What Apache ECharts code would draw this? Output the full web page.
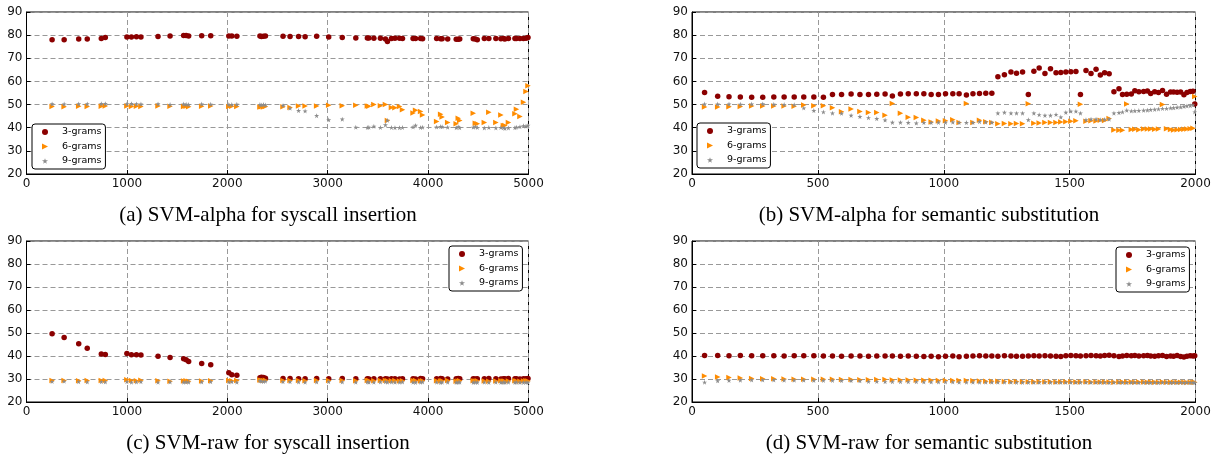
<!DOCTYPE html>
<html>
<head>
<meta charset="utf-8">
<script src="https://cdn.jsdelivr.net/npm/echarts@6/dist/echarts.min.js"></script>
<style>
  html, body { margin: 0; padding: 0; background: #fff; }
  #chart { width: 1221px; height: 462px; }
</style>
</head>
<body>
<div id="chart"></div>
<script>
// x positions (number of inserted syscalls / substituted items)
const xSyscall = [
  255, 375, 520, 605, 745, 785, 1000, 1045, 1095, 1140,
  1310, 1430, 1565, 1590, 1615, 1745, 1835, 2015, 2045, 2095,
  2325, 2340, 2360, 2380, 2555, 2625, 2710, 2775, 2890, 3010,
  3145, 3280, 3395, 3410, 3460, 3525, 3575, 3595, 3635, 3670,
  3715, 3745, 3850, 3875, 3925, 3945, 4085, 4125, 4140, 4195,
  4280, 4300, 4315, 4450, 4470, 4490, 4560, 4605, 4675, 4725,
  4750, 4765, 4800, 4865, 4880, 4915, 4950, 4975, 4995
]
const xSemantic = [
  50, 102, 147, 192, 237, 281, 325, 366, 406, 444,
  484, 522, 558, 594, 632, 667, 701, 734, 767, 796,
  828, 859, 891, 921, 950, 979, 1007, 1036, 1061, 1090,
  1116, 1142, 1167, 1191, 1215, 1241, 1267, 1289, 1313, 1336,
  1358, 1379, 1402, 1424, 1446, 1465, 1485, 1505, 1525, 1543,
  1565, 1585, 1605, 1622, 1639, 1657, 1676, 1696, 1710, 1727,
  1745, 1759, 1775, 1794, 1809, 1822, 1838, 1853, 1869, 1885,
  1901, 1913, 1927, 1941, 1954, 1966, 1979, 1990, 1997
]

// (a) SVM-alpha, syscall insertion
const alphaSys3 = [
  78.0, 78.0, 78.3, 78.3, 78.6, 79.0, 79.2, 79.2, 79.3, 79.2,
  79.4, 79.6, 79.8, 79.8, 79.6, 79.7, 79.7, 79.6, 79.6, 79.5,
  79.6, 79.4, 79.5, 79.6, 79.5, 79.4, 79.4, 79.3, 79.5, 79.2,
  79.0, 78.8, 78.8, 78.8, 78.7, 78.7, 78.3, 77.2, 78.6, 78.7,
  78.7, 78.6, 78.6, 78.5, 78.5, 78.4, 78.5, 78.4, 78.4, 78.3,
  78.2, 78.2, 78.3, 78.4, 78.3, 78.0, 78.5, 78.6, 78.6, 78.4,
  78.5, 78.3, 78.5, 78.5, 78.5, 78.5, 78.6, 78.7, 79.0
]
const alphaSys6 = [
  49.2, 49.1, 49.3, 49.2, 49.3, 49.4, 49.4, 49.2, 49.3, 49.2,
  49.4, 49.3, 49.2, 49.3, 49.1, 49.3, 49.4, 49.2, 49.3, 49.2,
  48.9, 49.1, 49.0, 49.2, 49.1, 48.7, 49.4, 49.4, 49.4, 49.7,
  49.5, 49.7, 49.4, 49.3, 50.0, 49.5, 50.0, 43.1, 48.7, 48.6,
  49.2, 47.8, 46.4, 47.6, 47.0, 45.5, 42.7, 45.8, 44.6, 42.2,
  41.7, 44.1, 43.1, 46.3, 41.9, 41.7, 42.2, 46.7, 42.2, 45.5,
  41.0, 41.0, 42.2, 46.0, 48.0, 44.8, 51.0, 55.7, 58.1
]
const alphaSys9 = [
  50.3, 50.2, 50.3, 50.3, 50.4, 50.4, 50.3, 50.4, 50.3, 50.2,
  50.3, 50.0, 50.2, 50.1, 50.0, 50.2, 50.1, 50.0, 50.0, 50.1,
  50.0, 49.8, 50.0, 49.8, 49.6, 48.4, 47.4, 47.2, 45.2, 43.4,
  43.7, 40.2, 40.1, 40.2, 40.6, 40.1, 41.2, 43.2, 40.1, 40.0,
  40.0, 40.1, 40.3, 41.0, 40.1, 40.2, 40.3, 40.5, 40.4, 40.2,
  40.0, 40.4, 40.0, 40.2, 40.4, 40.1, 39.9, 40.1, 39.9, 40.1,
  40.0, 39.7, 39.9, 40.0, 40.2, 40.4, 40.8, 40.6, 41.0
]

// (b) SVM-alpha, semantic substitution
const alphaSem3 = [
  55.2, 53.6, 53.4, 53.3, 53.2, 53.2, 53.3, 53.3, 53.3, 53.3,
  53.3, 53.2, 54.3, 54.4, 54.6, 54.4, 54.4, 54.5, 54.6, 53.7,
  54.6, 54.7, 54.7, 54.7, 54.4, 54.4, 54.7, 54.7, 54.7, 54.1,
  54.7, 54.8, 54.9, 54.9, 62.0, 62.9, 64.1, 63.5, 64.1, 54.4,
  64.4, 65.8, 63.4, 65.5, 63.7, 63.9, 64.1, 64.2, 64.3, 54.4,
  64.7, 63.4, 65.3, 62.8, 63.7, 63.3, 55.5, 56.8, 54.3, 54.5,
  54.6, 56.0, 55.5, 55.6, 55.9, 54.8, 55.5, 55.2, 56.1, 54.5,
  55.4, 55.4, 55.3, 55.4, 54.2, 55.2, 55.6, 55.8, 50.3
]
const alphaSem6 = [
  49.0, 49.0, 49.1, 49.2, 49.4, 49.4, 49.4, 49.4, 49.3, 49.8,
  49.5, 49.5, 48.6, 46.9, 48.1, 47.0, 46.6, 46.6, 45.4, 50.5,
  46.2, 44.5, 44.4, 43.2, 42.5, 42.9, 43.0, 43.4, 42.3, 50.5,
  42.3, 43.2, 42.6, 42.3, 41.7, 41.8, 41.7, 41.8, 41.7, 50.4,
  41.9, 42.0, 42.2, 42.2, 42.3, 42.5, 42.6, 42.8, 43.0, 50.1,
  42.8, 43.0, 42.9, 43.2, 43.1, 44.0, 39.0, 38.9, 38.9, 50.3,
  39.2, 39.3, 39.1, 39.4, 39.4, 39.4, 39.3, 39.4, 50.0, 39.5,
  39.2, 39.0, 39.1, 39.2, 39.3, 39.4, 39.5, 39.8, 53.5
]
const alphaSem9 = [
  50.2, 50.2, 50.2, 50.1, 50.2, 50.3, 50.1, 50.0, 49.9, 48.5,
  47.4, 46.8, 46.3, 46.2, 45.3, 44.8, 44.3, 43.9, 43.3, 42.3,
  42.3, 42.2, 42.0, 42.2, 42.2, 42.3, 42.3, 42.4, 42.2, 42.2,
  42.2, 42.6, 42.4, 42.3, 46.3, 46.6, 46.3, 46.3, 46.3, 43.4,
  46.3, 45.6, 45.3, 45.3, 45.7, 44.6, 46.6, 47.1, 47.1, 46.3,
  43.4, 43.7, 43.7, 43.4, 43.6, 43.7, 46.3, 46.5, 46.8, 47.5,
  47.2, 47.3, 47.4, 47.5, 47.6, 47.8, 47.9, 48.1, 48.3, 48.3,
  48.5, 48.6, 48.8, 48.9, 49.2, 49.4, 49.5, 49.8, 46.8
]

// (c) SVM-raw, syscall insertion
const rawSys3 = [
  49.7, 48.0, 45.3, 43.4, 40.9, 40.6, 41.1, 40.5, 40.5, 40.4,
  39.9, 39.4, 38.8, 38.4, 37.6, 36.7, 36.2, 32.7, 31.8, 31.6,
  30.5, 30.8, 30.6, 30.3, 30.2, 30.2, 30.1, 30.1, 30.2, 30.1,
  30.2, 30.1, 30.1, 30.0, 30.1, 30.1, 30.1, 30.0, 30.1, 30.1,
  30.0, 30.1, 30.1, 30.0, 30.2, 30.1, 30.1, 30.2, 30.1, 30.0,
  30.1, 30.2, 30.1, 30.1, 30.0, 30.1, 30.1, 30.2, 30.1, 30.0,
  30.1, 30.1, 30.2, 30.1, 30.1, 30.0, 30.1, 30.1, 30.2
]
const rawSys6 = [
  29.4, 29.3, 29.2, 29.3, 29.4, 29.3, 29.7, 29.3, 29.2, 29.5,
  29.2, 29.0, 29.1, 29.2, 29.0, 29.1, 29.2, 29.3, 29.2, 29.4,
  29.6, 29.5, 29.4, 29.5, 29.3, 29.4, 29.3, 29.2, 29.3, 29.4,
  29.3, 29.2, 29.3, 29.4, 29.2, 29.3, 29.3, 29.2, 29.2, 29.3,
  29.1, 29.2, 29.3, 29.3, 29.1, 29.2, 29.2, 29.1, 29.2, 29.3,
  29.0, 29.1, 29.2, 29.2, 29.1, 29.2, 29.1, 29.0, 29.1, 29.2,
  29.1, 29.0, 29.1, 29.2, 29.1, 29.0, 29.1, 29.2, 29.1
]
const rawSys9 = [
  28.9, 29.0, 28.8, 28.7, 28.8, 28.7, 28.8, 28.6, 28.7, 28.8,
  28.6, 28.7, 28.6, 28.7, 28.6, 28.7, 28.8, 28.7, 28.8, 28.6,
  29.2, 29.0, 28.9, 29.0, 28.8, 28.8, 28.7, 28.6, 28.7, 28.8,
  28.7, 28.6, 28.7, 28.6, 28.6, 28.7, 28.8, 28.6, 28.7, 28.6,
  28.6, 28.7, 28.6, 28.5, 28.6, 28.7, 28.6, 28.5, 28.6, 28.6,
  28.5, 28.6, 28.6, 28.5, 28.6, 28.5, 28.6, 28.5, 28.6, 28.5,
  28.6, 28.5, 28.6, 28.5, 28.6, 28.5, 28.5, 28.6, 28.5
]

// (d) SVM-raw, semantic substitution
const rawSem3 = [
  40.2, 40.2, 40.1, 40.2, 40.1, 40.1, 40.1, 40.0, 40.1, 40.1,
  40.1, 40.0, 40.0, 39.9, 40.0, 40.0, 39.9, 40.0, 40.0, 40.0,
  39.9, 40.0, 39.9, 39.8, 39.9, 39.7, 39.9, 40.0, 39.7, 39.9,
  40.0, 40.1, 40.0, 40.0, 39.9, 40.1, 40.0, 39.9, 39.9, 40.0,
  40.1, 40.0, 40.1, 40.0, 39.9, 39.8, 40.1, 40.2, 40.1, 40.0,
  40.1, 40.2, 40.1, 40.0, 40.2, 40.3, 40.1, 39.8, 40.0, 40.2,
  40.1, 40.2, 40.0, 40.1, 40.2, 40.0, 39.9, 40.1, 40.2, 39.8,
  40.0, 39.9, 40.2, 39.8, 39.6, 39.9, 40.1, 40.0, 40.1
]
const rawSem6 = [
  31.3, 30.9, 30.7, 30.4, 30.2, 30.1, 30.1, 30.0, 29.9, 29.9,
  29.9, 29.9, 29.9, 29.8, 29.8, 29.7, 29.7, 29.8, 29.8, 29.6,
  29.6, 29.6, 29.5, 29.5, 29.5, 29.4, 29.4, 29.4, 29.3, 29.3,
  29.2, 29.1, 29.0, 29.0, 29.0, 28.9, 28.9, 28.9, 28.8, 28.8,
  28.8, 28.8, 28.8, 28.8, 28.7, 28.8, 28.8, 28.8, 28.7, 28.7,
  28.8, 28.7, 28.7, 28.7, 28.7, 28.7, 28.6, 28.7, 28.7, 28.7,
  28.7, 28.6, 28.7, 28.7, 28.6, 28.7, 28.6, 28.6, 28.7, 28.6,
  28.6, 28.6, 28.6, 28.6, 28.6, 28.5, 28.6, 28.6, 28.6
]
const rawSem9 = [
  28.6, 29.2, 29.4, 29.5, 29.6, 29.6, 29.6, 29.5, 29.5, 29.5,
  29.4, 29.4, 29.4, 29.3, 29.3, 29.2, 28.9, 28.9, 28.8, 28.8,
  28.8, 28.8, 28.8, 28.7, 28.7, 28.7, 28.7, 28.7, 28.6, 28.6,
  28.6, 28.6, 28.6, 28.6, 28.6, 28.6, 28.6, 28.5, 28.5, 28.5,
  28.5, 28.5, 28.5, 28.5, 28.5, 28.5, 28.5, 28.5, 28.5, 28.5,
  28.5, 28.5, 28.5, 28.5, 28.5, 28.4, 28.5, 28.5, 28.5, 28.4,
  28.5, 28.5, 28.4, 28.5, 28.5, 28.4, 28.5, 28.4, 28.5, 28.5,
  28.4, 28.5, 28.4, 28.5, 28.4, 28.5, 28.4, 28.5, 28.4
]

const seriesNames = ['3-grams', '6-grams', '9-grams']
const seriesColors = ['#8b0000', '#ff8c00', '#8c8c8c']
const seriesSymbols = [
  'circle',
  'path://M0,0L10,5L0,10Z',
  'path://M5,0L6.123,3.455L9.755,3.455L6.816,5.59L7.939,9.045L5,6.91L2.061,9.045L3.184,5.59L0.245,3.455L3.877,3.455Z'
]
const symbolSizes = [5.5, 5.5, 5]
const yTicks = { min: 20, max: 90, interval: 10 }

const panels = [
  {
    grid: { left: 26.5, top: 12, width: 502, height: 162 },
    xMax: 5000, xStep: 1000, x: xSyscall, ys: [alphaSys3, alphaSys6, alphaSys9],
    legend: { left: 32, top: 124 },
    caption: '(a) SVM-alpha for syscall insertion', cx: 268, cy: 215
  },
  {
    grid: { left: 692, top: 12, width: 503.5, height: 162 },
    xMax: 2000, xStep: 500, x: xSemantic, ys: [alphaSem3, alphaSem6, alphaSem9],
    legend: { left: 697, top: 123 },
    caption: '(b) SVM-alpha for semantic substitution', cx: 929, cy: 215
  },
  {
    grid: { left: 26.5, top: 241, width: 502, height: 161 },
    xMax: 5000, xStep: 1000, x: xSyscall, ys: [rawSys3, rawSys6, rawSys9],
    legend: { left: 449, top: 246 },
    caption: '(c) SVM-raw for syscall insertion', cx: 268, cy: 443
  },
  {
    grid: { left: 692, top: 241, width: 503.5, height: 161 },
    xMax: 2000, xStep: 500, x: xSemantic, ys: [rawSem3, rawSem6, rawSem9],
    legend: { left: 1116, top: 247 },
    caption: '(d) SVM-raw for semantic substitution', cx: 929, cy: 443
  }
]

const tickFont = { fontFamily: 'DejaVu Sans', fontSize: 12, color: '#111' }
const gridLine = { show: true, lineStyle: { color: '#999999', width: 1, type: [5, 3] } }

function buildAxis(i, min, max, interval) {
  return {
    gridIndex: i,
    type: 'value',
    min: min,
    max: max,
    interval: interval,
    axisLine: { show: true, onZero: false, lineStyle: { color: '#000', width: 1 } },
    axisTick: { show: true, inside: true, length: 4, lineStyle: { color: '#000' } },
    axisLabel: Object.assign({ margin: 4, formatter: v => String(v) }, tickFont),
    splitLine: gridLine
  }
}

const option = {
  animation: false,
  backgroundColor: '#fff',
  grid: panels.map(p => Object.assign({ show: true, borderColor: '#000', borderWidth: 1, backgroundColor: '#fff' }, p.grid)),
  xAxis: panels.map((p, i) => buildAxis(i, 0, p.xMax, p.xStep)),
  yAxis: panels.map((p, i) => buildAxis(i, yTicks.min, yTicks.max, yTicks.interval)),
  legend: panels.map(p => ({
    left: p.legend.left,
    top: p.legend.top,
    orient: 'vertical',
    selectedMode: false,
    data: seriesNames,
    itemWidth: 6,
    itemHeight: 6,
    itemGap: 2.5,
    padding: [2, 4, 2, 10],
    borderColor: '#000',
    borderWidth: 1,
    borderRadius: 3,
    backgroundColor: '#fff',
    textStyle: { fontFamily: 'DejaVu Sans', fontSize: 9.5, color: '#000', lineHeight: 12, padding: [0, 0, 0, 9] }
  })),
  series: [],
  graphic: panels.map(p => ({
    type: 'text',
    x: p.cx,
    y: p.cy,
    style: {
      text: p.caption,
      fontFamily: 'Liberation Serif',
      fontSize: 21,
      fill: '#000',
      align: 'center',
      verticalAlign: 'middle'
    }
  }))
}

panels.forEach((p, i) => {
  p.ys.forEach((vals, k) => {
    option.series.push({
      type: 'scatter',
      name: seriesNames[k],
      xAxisIndex: i,
      yAxisIndex: i,
      symbol: seriesSymbols[k],
      symbolSize: symbolSizes[k],
      itemStyle: { color: seriesColors[k], opacity: 1 },
      emphasis: { disabled: true },
      data: p.x.map((x, j) => [x, vals[j]])
    })
  })
})

const chart = echarts.init(document.getElementById('chart'), null, { renderer: 'canvas' })
chart.setOption(option)
window.addEventListener('resize', () => chart.resize())
</script>
</body>
</html>
